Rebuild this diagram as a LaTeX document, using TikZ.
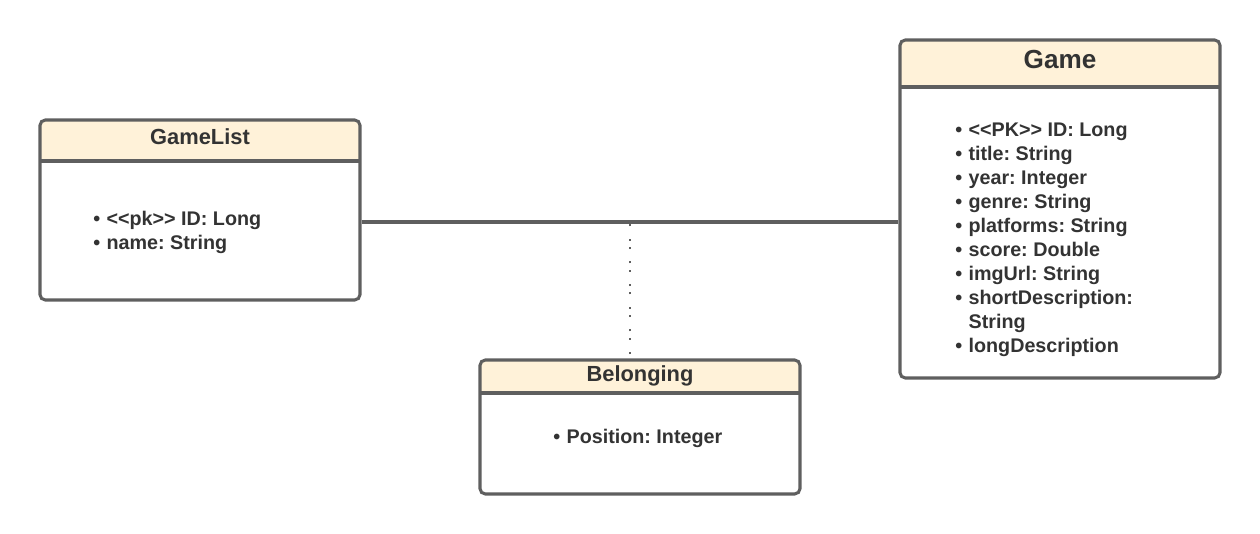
\documentclass[tikz,border=0pt]{standalone}
\usepackage{fontspec}
\setmainfont{Liberation Sans}
\frenchspacing
\definecolor{linegray}{HTML}{5F5F5F}
\definecolor{headcream}{HTML}{FFF2D9}
\definecolor{textgray}{HTML}{333333}
\newcommand{\stereo}[1]{<\kern0pt<#1>\kern0pt>}
\newcommand{\attr}[1]{\makebox[10pt][l]{•}#1}
\tikzset{
  classbox/.style={draw=linegray, line width=2.3pt, rounded corners=4pt, fill=white,
    minimum width=240pt, inner sep=0pt,
    path picture={
      \fill[headcream] (path picture bounding box.north west)
        rectangle ([yshift=-#1]path picture bounding box.north east);
      \draw[linegray, line width=2.3pt] ([yshift=-#1]path picture bounding box.north west)
        -- ([yshift=-#1]path picture bounding box.north east);
    }},
  classtitle/.style={anchor=base, inner sep=0pt, text=textgray},
  attrs/.style={anchor=base west, align=left, inner sep=0pt, text=textgray,
    font=\bfseries\fontsize{14.8}{18}\selectfont},
  assocline/.style={draw=linegray, line width=2.3pt},
  linkline/.style={draw=linegray, line width=1.6pt,
    dash pattern=on 1.5pt off 4.8pt on 1.5pt off 9.2pt, dash phase=3pt},
}
\begin{document}
\begin{tikzpicture}[x=0.75pt, y=-0.75pt]
  \useasboundingbox (0,0) rectangle (1260,534);

  % classes
  \node[classbox=30.75pt, minimum height=135pt] (gamelist) at (200,210) {};
  \node[classbox=35.25pt, minimum height=253.5pt] (game) at (1060,209) {};
  \node[classbox=24.75pt, minimum height=100.5pt] (belonging) at (640,427) {};

  % titles
  \node[classtitle, font=\bfseries\fontsize{16.4}{20}\selectfont] (gamelisttitle) at (200,145) {GameList};
  \node[classtitle, font=\bfseries\fontsize{19.6}{24}\selectfont] (gametitle) at (1060,68.3) {Game};
  \node[classtitle, font=\bfseries\fontsize{16.4}{20}\selectfont] (belongingtitle) at (640,381.7) {Belonging};

  % attributes (base = last line)
  \node[attrs] (gamelistattrs) at (93,250) {\attr{\stereo{pk} ID: Long}\\ \attr{name: String}};
  \node[attrs] (gameattrs) at (955,352.7) {\attr{\stereo{PK} ID: Long}\\ \attr{title: String}\\
    \attr{year: Integer}\\ \attr{genre: String}\\ \attr{platforms: String}\\ \attr{score: Double}\\
    \attr{imgUrl: String}\\ \attr{shortDescription:}\\ \hspace*{10pt}String\\ \attr{longDescription}};
  \node[attrs] (belongingattrs) at (553,444) {\attr{Position: Integer}};

  % association
  \coordinate (assoc) at (630,222);
  \draw[assocline] (gamelist.east |- assoc) -- (game.west |- assoc);
  \draw[linkline] (assoc |- belonging.north) -- (assoc);
\end{tikzpicture}
\end{document}
